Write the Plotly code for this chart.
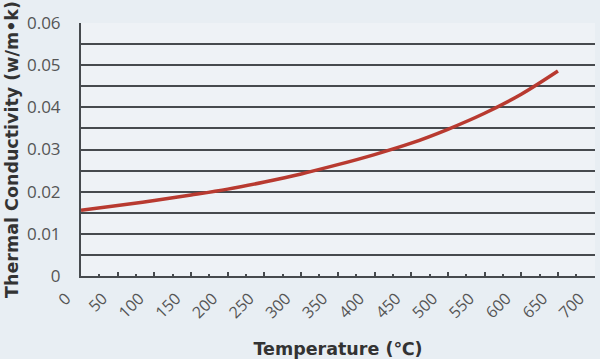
import plotly.graph_objects as go

temperature = [0, 50, 100, 150, 200, 250, 300, 350, 400, 450, 500, 550, 600, 650]
conductivity = [0.0156, 0.0167, 0.0179, 0.0192, 0.0206, 0.0223, 0.0242, 0.0264,
                0.0288, 0.0315, 0.0348, 0.0386, 0.0431, 0.0486]
x_ticks = list(range(0, 701, 50))
y_ticks = [0, 0.01, 0.02, 0.03, 0.04, 0.05, 0.06]
y_tick_text = ["0", "0.01", "0.02", "0.03", "0.04", "0.05", "0.06"]

grid_col = "#464a4e"
fig = go.Figure()
fig.add_trace(go.Scatter(
    x=temperature, y=conductivity, mode="lines",
    line=dict(color="#b83a30", width=3.5, shape="spline", smoothing=1),
    hoverinfo="skip", showlegend=False,
))

fig.update_layout(
    width=600, height=359,
    margin=dict(l=81, r=5, t=23, b=83),
    paper_bgcolor="#e8eef3",
    plot_bgcolor="#eef2f6",
    font=dict(family="Open Sans", color="#555555"),
)
fig.update_xaxes(
    range=[0, 700.5], tickvals=x_ticks, ticktext=[str(v) for v in x_ticks],
    tickangle=-45, tickfont=dict(size=16, color="#555555"),
    ticklabeloverflow="allow", ticklabelshift=-15, ticklabelstandoff=5,
    showgrid=False, zeroline=False,
    showline=True, linecolor=grid_col, linewidth=2,
    ticks="inside", ticklen=4, tickcolor=grid_col, tickwidth=1.5,
    minor=dict(dtick=25, tick0=0, ticks="inside", ticklen=2, tickcolor=grid_col, tickwidth=1.5),
    title=dict(text="Temperature (℃)", font=dict(family="DejaVu Sans", size=17.5, color="#333333", weight="bold"), standoff=22),
    automargin=False,
)
fig.update_yaxes(
    range=[0, 0.06], tickvals=y_ticks, ticktext=y_tick_text,
    tickfont=dict(size=17, color="#555555"), ticklabelstandoff=15,
    showgrid=True, gridcolor=grid_col, gridwidth=2,
    minor=dict(dtick=0.005, tick0=0, showgrid=True, gridcolor=grid_col, gridwidth=2),
    zeroline=False, showline=True, linecolor=grid_col, linewidth=2,
    ticks="",
    title=dict(text="Thermal Conductivity (w/m•k)", font=dict(family="DejaVu Sans", size=17.5, color="#333333", weight="bold"), standoff=4),
    automargin=False,
)
fig.write_html("out.html", config={"displayModeBar": False},
               post_script="document.body.style.margin='0';")
